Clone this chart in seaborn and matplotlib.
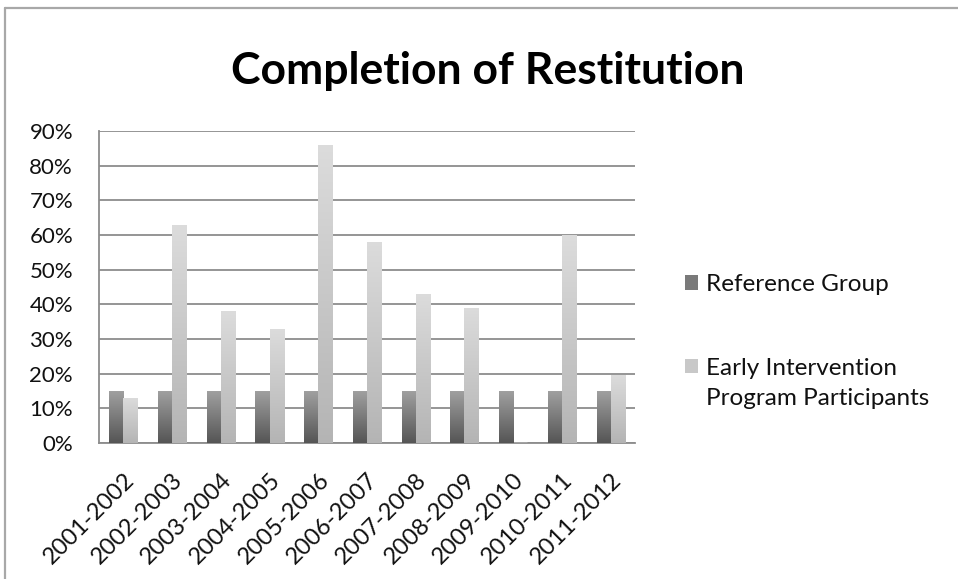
import numpy as np
import pandas as pd
import seaborn as sns
import matplotlib.pyplot as plt
from matplotlib.lines import Line2D
from matplotlib.patches import Patch
from matplotlib.colors import LinearSegmentedColormap
from matplotlib.ticker import FuncFormatter

periods = ["2001-2002", "2002-2003", "2003-2004", "2004-2005", "2005-2006", "2006-2007",
           "2007-2008", "2008-2009", "2009-2010", "2010-2011", "2011-2012"]
reference_group = [15, 15, 15, 15, 15, 15, 15, 15, 15, 15, 15]
early_intervention = [13, 63, 38, 33, 86, 58, 43, 39, 0, 60, 19.5]
series_names = ["Reference Group", "Early Intervention\nProgram Participants"]
y_ticks = [0, 10, 20, 30, 40, 50, 60, 70, 80, 90]

df = pd.DataFrame({
    "period": periods * 2,
    "value": reference_group + early_intervention,
    "group": [series_names[0]] * len(periods) + [series_names[1]] * len(periods),
})

sns.set_style("white")
plt.rcParams["font.family"] = ["Lato", "DejaVu Sans"]

fig = plt.figure(figsize=(9.58, 5.79), dpi=100)
W, H = 958, 579
ax = fig.add_axes([99 / W, 1 - 443 / H, (635 - 99) / W, (443 - 131) / H])

flat = ["#7a7a7a", "#c8c8c8"]
sns.barplot(data=df, x="period", y="value", hue="group", palette=flat,
            width=0.58, saturation=1, ax=ax, legend=False, zorder=3)

cmaps = [LinearSegmentedColormap.from_list("dark", ["#555555", "#a0a0a0"]),
         LinearSegmentedColormap.from_list("light", ["#b4b4b4", "#dcdcdc"])]
grad = np.linspace(0, 1, 256).reshape(-1, 1)
for ci, cont in enumerate(ax.containers):
    for bar in cont:
        x, y = bar.get_x(), bar.get_y()
        w, h = bar.get_width(), bar.get_height()
        if h <= 0:
            continue
        bar.set_facecolor("none")
        bar.set_edgecolor("none")
        im = ax.imshow(grad, extent=[x, x + w, 0, h], origin="lower",
                       cmap=cmaps[ci], aspect="auto", zorder=3, interpolation="bilinear")
        im.set_clip_path(bar)

ax.set_xlim(-0.5, len(periods) - 0.5)
ax.set_ylim(0, 90)
ax.set_yticks(y_ticks)
ax.yaxis.set_major_formatter(FuncFormatter(lambda v, p: f"{v:.0f}%"))
ax.set_xlabel("")
ax.set_ylabel("")

ax.grid(axis="y", color="#8c8c8c", linewidth=1.3, zorder=0)
ax.set_axisbelow(True)
for s in ["top", "right"]:
    ax.spines[s].set_visible(False)
for s in ["left", "bottom"]:
    ax.spines[s].set_color("#8c8c8c")
    ax.spines[s].set_linewidth(1.3)

# x ticks at category boundaries
ax.set_xticks(np.arange(len(periods)))
ax.set_xticklabels(periods, rotation=45, ha="right", va="top", rotation_mode="anchor",
                   fontsize=17, color="#111111")
ax.tick_params(axis="x", which="major", length=0, pad=19)
ax.set_xticks(np.arange(-0.5, len(periods), 1.0), minor=True)
ax.tick_params(axis="x", which="minor", length=7, width=1.3, color="#8c8c8c", direction="out")
ax.tick_params(axis="y", length=7.2, width=1.3, color="#8c8c8c", direction="out", labelsize=16,
               labelcolor="#111111", pad=11.5)

handles = [Patch(facecolor="#7a7a7a", edgecolor="none"), Patch(facecolor="#c8c8c8", edgecolor="none")]
leg = fig.legend(handles, series_names, loc="upper left", bbox_to_anchor=(685 / W, 1 - 274 / H),
                 frameon=False, fontsize=17.5, labelspacing=2.6, handlelength=0.53, handleheight=0.53,
                 handletextpad=0.33, labelcolor="#111111", borderpad=0, borderaxespad=0)
for t in leg.get_texts():
    t.set_linespacing(1.5)
# align the second handle with the first line of its two-line label
h2 = leg.legend_handles[1]
h2.set_y(h2.get_y() + 12.5)

fig.text(488 / W, 1 - 71 / H, "Completion of Restitution", ha="center", va="center",
         fontsize=32, fontweight="bold", color="#000000")

# outer chart border (left and top visible)
fig.add_artist(Line2D([5 / W, 5 / W], [0, 1 - 8 / H], transform=fig.transFigure,
                      color="#a8a8a8", linewidth=1.6))
fig.add_artist(Line2D([5 / W, 1], [1 - 8 / H, 1 - 8 / H], transform=fig.transFigure,
                      color="#a8a8a8", linewidth=1.6))

fig.savefig("out.png", dpi=100)
